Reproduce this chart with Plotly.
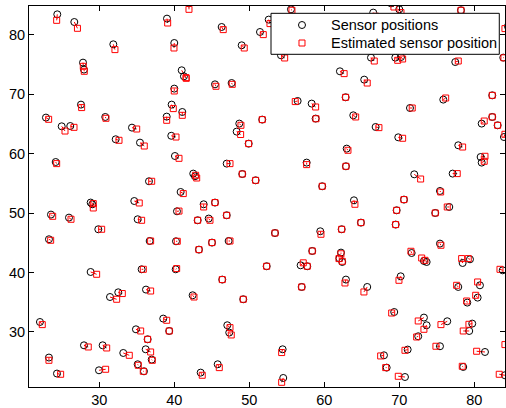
import plotly.graph_objects as go

# True sensor positions
sensor_x = [24.40, 26.67, 31.87, 27.83, 27.96, 27.56, 22.89, 24.99, 26.13, 30.80,
            34.36, 32.19, 39.03, 40.00, 40.99, 41.29, 40.00, 38.99, 39.65, 41.07,
            39.60, 41.96, 46.32, 51.43, 52.59, 55.56, 48.99, 54.23, 45.43, 47.65,
            56.45, 58.32, 58.85, 51.73, 48.67, 48.32, 62.09, 62.85, 70.00, 68.89,
            66.53, 78.23, 84.49, 66.23, 69.47, 70.23, 77.47, 83.87, 65.33, 75.87,
            82.40, 71.43, 63.87, 66.85, 80.99, 82.40, 83.12, 69.87, 83.96,
            35.43, 24.19, 40.09, 36.63, 40.85, 28.85, 29.07, 34.67, 23.56, 25.96,
            35.12, 40.36, 29.87, 23.29, 36.72, 40.23, 49.92, 62.99, 46.99, 57.65,
            62.89, 42.53, 42.76, 49.07, 50.85, 59.73, 43.92, 45.43, 43.12, 44.59,
            46.99, 53.43, 59.47, 62.32, 45.03, 47.25, 43.29, 58.40, 62.23, 62.03,
            62.40, 52.32, 56.85, 57.73, 77.87, 80.85, 80.99, 72.00, 77.12, 75.43,
            63.96, 70.63, 69.65, 76.67, 74.80, 64.89, 69.52, 75.43, 71.65, 73.29,
            73.65, 78.45, 79.43, 83.79,
            28.85, 35.65, 40.19, 36.23, 32.53, 31.43, 22.09, 38.53, 34.89, 39.33,
            36.45, 23.29, 27.96, 30.45, 36.19, 33.20, 36.99, 35.12, 29.96, 35.96,
            24.36, 46.40, 62.89, 56.99, 42.45, 49.20, 47.07, 47.33, 54.45, 45.79,
            43.52, 54.53, 65.73, 70.19, 77.87, 80.76, 80.45, 79.07, 69.33, 73.29,
            73.65, 76.40, 79.73, 79.33, 72.53, 75.43, 71.12, 81.43, 84.63, 67.96,
            68.32, 78.53, 70.76, 84.09]
sensor_y = [83.41, 82.12, 78.37, 75.29, 74.12, 68.23, 66.05, 64.58, 64.63, 66.15,
            64.36, 62.40, 82.69, 78.59, 74.00, 72.99, 70.92, 66.21, 68.23, 66.99,
            62.99, 85.26, 81.28, 80.44, 82.52, 84.25, 78.20, 76.52, 71.64, 71.86,
            68.84, 68.40, 65.88, 65.71, 65.04, 63.69, 73.83, 69.46, 84.25, 85.26,
            83.70, 84.09, 81.40, 76.13, 76.13, 76.23, 75.39, 76.13, 72.43, 69.07,
            69.79, 67.66, 66.43, 64.47, 65.04, 66.15, 64.75, 62.73, 62.78,
            61.84, 58.58, 59.59, 55.34, 53.54, 51.76, 51.47, 52.02, 49.74, 49.23,
            48.95, 50.29, 47.27, 45.59, 45.30, 45.25, 61.67, 60.83, 58.31, 58.48,
            57.86, 56.63, 56.18, 56.56, 55.50, 54.50, 51.47, 51.76, 48.78, 49.07,
            49.62, 46.64, 46.93, 47.27, 45.03, 45.30, 43.85, 43.62, 43.35, 42.39,
            41.77, 41.05, 41.21, 41.05, 61.39, 59.42, 58.48, 56.51, 56.63, 53.71,
            52.14, 52.26, 50.46, 51.02, 50.01, 48.39, 48.06, 44.86, 43.28, 41.94,
            41.77, 41.60, 42.22, 40.37,
            40.09, 40.54, 40.54, 37.13, 36.67, 35.88, 31.68, 32.25, 30.45, 30.17,
            28.77, 25.70, 27.76, 27.76, 27.09, 26.47, 25.36, 24.57, 23.56, 23.39,
            23.01, 38.81, 38.81, 37.57, 36.17, 35.50, 31.13, 29.90, 27.09, 24.57,
            23.17, 22.27, 37.57, 39.36, 37.57, 37.85, 35.78, 34.94, 33.36, 32.42,
            31.13, 31.80, 31.41, 30.17, 29.28, 27.60, 27.04, 26.64, 28.10, 26.08,
            24.01, 24.12, 22.43, 22.72]

# Estimated sensor positions
est_x = [24.32, 27.09, 32.09, 27.87, 28.00, 27.65, 23.25, 25.43, 26.63, 30.89,
         34.99, 32.63, 39.12, 39.96, 41.56, 41.60, 40.00, 38.99, 39.87, 41.07,
         40.23, 41.96, 46.53, 51.87, 52.76, 55.69, 49.33, 54.72, 45.56, 47.73,
         56.13, 58.85, 58.90, 51.73, 48.89, 48.85, 62.65, 62.85, 70.23, 69.29,
         66.89, 78.23, 84.09, 66.67, 69.79, 70.45, 77.87, 83.96, 65.73, 76.19,
         82.40, 71.73, 64.19, 67.29, 81.33, 82.40, 83.12, 70.45, 84.09,
         36.00, 24.32, 40.63, 36.99, 41.20, 29.20, 29.20, 35.33, 23.79, 26.23,
         35.65, 40.63, 30.32, 23.52, 36.85, 40.40, 49.92, 63.16, 47.43, 57.65,
         62.89, 42.85, 42.99, 49.07, 50.85, 59.73, 43.92, 45.43, 43.12, 44.76,
         46.99, 53.43, 59.56, 62.32, 45.03, 47.43, 43.29, 58.40, 62.23, 61.96,
         62.40, 52.32, 57.20, 57.73, 78.45, 81.43, 81.33, 72.85, 77.73, 75.52,
         64.09, 70.63, 69.65, 76.40, 74.80, 64.89, 69.52, 75.56, 71.56, 72.99,
         73.43, 78.32, 79.20, 83.43,
         29.65, 35.87, 40.32, 36.85, 33.07, 32.32, 22.40, 38.99, 35.52, 39.33,
         36.45, 23.29, 28.53, 30.99, 36.85, 34.00, 37.07, 35.20, 30.85, 35.87,
         24.85, 46.40, 62.76, 56.99, 42.63, 49.20, 47.43, 47.60, 54.32, 46.00,
         43.73, 54.32, 65.29, 69.96, 77.65, 80.45, 80.19, 78.99, 68.99, 72.53,
         73.29, 75.56, 79.29, 78.53, 72.32, 74.89, 70.76, 80.32, 84.09, 67.52,
         68.19, 78.40, 69.87, 83.33]
est_y = [82.40, 81.06, 77.48, 74.67, 73.83, 67.73, 65.76, 63.79, 64.41, 65.93,
         64.13, 62.23, 81.95, 77.75, 72.77, 72.65, 70.52, 65.59, 67.56, 66.43,
         62.78, 84.25, 80.84, 80.00, 81.85, 84.09, 77.75, 76.07, 71.31, 71.64,
         68.74, 67.83, 65.85, 65.71, 64.75, 63.20, 73.44, 69.46, 83.70, 84.64,
         83.08, 84.09, 81.01, 75.56, 75.68, 75.90, 75.56, 76.10, 71.86, 69.34,
         69.79, 67.66, 66.15, 64.36, 65.47, 66.15, 64.75, 62.57, 63.24,
         61.27, 58.31, 59.20, 55.34, 53.27, 51.59, 50.85, 51.69, 49.45, 48.95,
         48.78, 50.33, 47.27, 45.42, 45.30, 45.25, 61.67, 60.55, 58.31, 58.14,
         57.86, 56.35, 55.89, 56.56, 55.50, 54.50, 51.02, 51.76, 48.78, 48.78,
         49.62, 46.64, 46.43, 47.27, 45.03, 45.30, 43.85, 43.62, 43.15, 42.34,
         41.89, 41.05, 41.63, 41.05, 61.10, 59.54, 58.70, 55.72, 56.63, 53.54,
         51.47, 52.26, 50.46, 51.02, 50.01, 48.39, 48.06, 44.58, 43.57, 42.44,
         42.05, 42.34, 42.34, 40.54,
         39.70, 40.54, 40.66, 36.89, 36.46, 35.50, 31.24, 31.97, 30.17, 30.17,
         28.77, 25.24, 27.48, 27.31, 26.64, 26.08, 25.24, 24.40, 23.73, 23.39,
         22.89, 38.81, 38.24, 37.57, 35.88, 35.50, 30.74, 29.50, 26.54, 24.01,
         22.72, 21.54, 36.73, 38.69, 37.85, 38.41, 36.17, 35.21, 33.19, 31.85,
         30.45, 31.24, 31.29, 30.17, 29.16, 27.60, 26.92, 26.76, 27.88, 25.97,
         24.01, 24.23, 22.55, 22.89]

x_ticks = [30, 40, 50, 60, 70, 80]
y_ticks = [30, 40, 50, 60, 70, 80]
legend_labels = ["Sensor positions", "Estimated sensor position"]

FONT = "Liberation Sans, Arial, Helvetica, sans-serif"
font = dict(family=FONT, size=14.5, color="black")

# connecting segments between true and estimated positions
line_x, line_y = [], []
for a, b, c, d in zip(sensor_x, sensor_y, est_x, est_y):
    line_x += [a, c, None]
    line_y += [b, d, None]

circle_marker = dict(symbol="circle-open", size=7, color="black",
                     line=dict(width=1, color="black"))
square_marker = dict(symbol="square-open", size=6, color="red",
                     line=dict(width=1, color="red"))

fig = go.Figure()
fig.add_trace(go.Scatter(x=line_x, y=line_y, mode="lines",
                         line=dict(color="red", width=1), showlegend=False,
                         hoverinfo="skip"))
fig.add_trace(go.Scatter(x=sensor_x, y=sensor_y, mode="markers", name=legend_labels[0],
                         marker=circle_marker, showlegend=False))
fig.add_trace(go.Scatter(x=est_x, y=est_y, mode="markers", name=legend_labels[1],
                         marker=square_marker, showlegend=False))

# Legend box (MATLAB style), drawn on an overlay axis in plot-fraction units
box_l, box_r, box_b, box_t = 0.5084, 0.9880, 0.8732, 0.9808
key_x, key_y = 0.5735, [0.9501, 0.9029]
text_x = 0.6309
fig.add_trace(go.Scatter(x=[box_l, box_r, box_r, box_l, box_l],
                         y=[box_b, box_b, box_t, box_t, box_b],
                         mode="lines", fill="toself", fillcolor="white",
                         line=dict(color="black", width=1),
                         xaxis="x2", yaxis="y2", showlegend=False, hoverinfo="skip"))
fig.add_trace(go.Scatter(x=[key_x], y=[key_y[0]], mode="markers", marker=circle_marker,
                         xaxis="x2", yaxis="y2", showlegend=False, hoverinfo="skip"))
fig.add_trace(go.Scatter(x=[key_x], y=[key_y[1]], mode="markers", marker=square_marker,
                         xaxis="x2", yaxis="y2", showlegend=False, hoverinfo="skip"))
for lab, yy in zip(legend_labels, key_y):
    fig.add_annotation(x=text_x, y=yy, xref="paper", yref="paper", text=lab,
                       showarrow=False, xanchor="left", yanchor="middle",
                       font=font)

axis_common = dict(showgrid=False, zeroline=False, showline=True, linecolor="black",
                   linewidth=1, mirror="ticks", ticks="inside", ticklen=5,
                   tickcolor="black", tickwidth=1, tickfont=font)

fig.update_layout(
    width=506, height=408,
    margin=dict(l=29, r=1, t=6, b=21),
    paper_bgcolor="white", plot_bgcolor="white",
    font=font,
    xaxis=dict(range=[20.63, 84.1], tickvals=x_ticks, **axis_common),
    yaxis=dict(range=[20.75, 84.81], tickvals=y_ticks, **axis_common),
    xaxis2=dict(overlaying="x", anchor="y2", range=[0, 1], visible=False),
    yaxis2=dict(overlaying="y", anchor="x2", range=[0, 1], visible=False),
    showlegend=False,
)

fig.write_html("out.html")
